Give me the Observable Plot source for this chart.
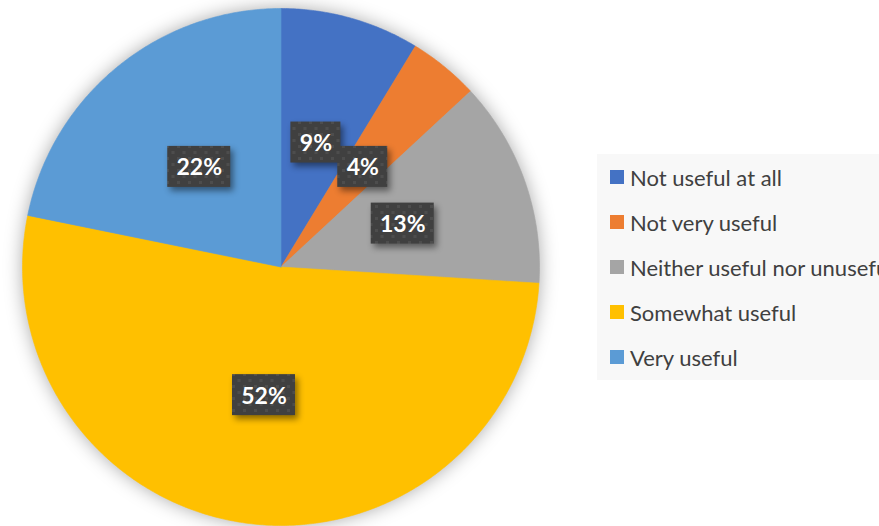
<!DOCTYPE html>
<html><head><meta charset="utf-8">
<script src="https://cdn.jsdelivr.net/npm/d3@7"></script>
<script src="https://cdn.jsdelivr.net/npm/@observablehq/plot@0.6"></script>
<style>
html,body{margin:0;padding:0;background:#fff;overflow:hidden}
#wrap{position:relative;width:879px;height:526px;font-family:Lato,sans-serif;overflow:hidden}
#legend{position:absolute;left:597px;top:154px;width:282px;height:226px;background:#F8F8F8;overflow:hidden;white-space:nowrap}
.item{position:absolute;left:13px;height:26px;display:flex;align-items:center;font-size:22px;color:#404040}
.sw{width:14px;height:14px;margin-right:6px;flex:none}
</style></head><body><div id="wrap"><div id="chart"></div><div id="legend"></div></div>
<script>
const categories = ["Not useful at all","Not very useful","Neither useful nor unuseful","Somewhat useful","Very useful"];
const values = [8.7, 4.4, 12.9, 52.2, 21.8];
const labels = ["9%","4%","13%","52%","22%"];
const colors = ["#4472C4","#ED7D31","#A5A5A5","#FFC000","#5B9BD5"];

const W = 879, H = 526, cx = 280.5, cy = 266.5, R = 258.5;
const total = d3.sum(values);
const slices = [], labelData = [];
let cum = 0;
values.forEach((v, i) => {
  const a0 = cum / total * 2 * Math.PI;
  cum += v;
  const a1 = cum / total * 2 * Math.PI;
  const n = Math.max(2, Math.ceil((a1 - a0) / (Math.PI / 360)));
  slices.push({cat: categories[i], x: 0, y: 0});
  for (let k = 0; k <= n; k++) {
    const a = a0 + (a1 - a0) * k / n;
    slices.push({cat: categories[i], x: Math.sin(a), y: Math.cos(a)});
  }
  slices.push({cat: categories[i], x: 0, y: 0});
  const am = (a0 + a1) / 2;
  const w = (labels[i].length === 2 ? 50 : 63) / 2 / R, h = 41 / 2 / R;
  const lx = 0.5 * Math.sin(am), ly = 0.5 * Math.cos(am);
  labelData.push({cat: categories[i], label: labels[i], x: lx, y: ly, x1: lx - w, x2: lx + w, y1: ly - h, y2: ly + h});
});

const plot = Plot.plot({
  width: W, height: H,
  margin: 0,
  x: {domain: [-cx / R, (W - cx) / R], axis: null},
  y: {domain: [-(H - cy) / R, cy / R], axis: null},
  color: {domain: categories, range: colors},
  marks: [
    Plot.line(slices, {x: "x", y: "y", z: "cat", fill: "cat", stroke: "cat", strokeWidth: 0.6, curve: "linear"}),
    Plot.rect(labelData, {x1: "x1", x2: "x2", y1: "y1", y2: "y2", fill: "url(#dots)"}),
    Plot.text(labelData, {x: "x", y: "y", text: "label", fill: "white", fontSize: 23, fontWeight: "bold", fontFamily: "Lato", dy: 1})
  ]
});

const ns = "http://www.w3.org/2000/svg";
const defs = document.createElementNS(ns, "defs");
defs.innerHTML = '<pattern id="dots" patternUnits="userSpaceOnUse" width="11" height="12">' +
  '<rect width="11" height="12" fill="#404040"/>' +
  '<rect x="1" y="1" width="3" height="3" fill="#4d4d4d"/>' +
  '<rect x="6.5" y="7" width="3" height="3" fill="#4d4d4d"/></pattern>';
plot.insertBefore(defs, plot.firstChild);
const gLine = plot.querySelector('g[aria-label="line"]');
if (gLine) gLine.style.filter = "drop-shadow(0px 0px 9px rgba(0,0,0,0.33))";
const gRect = plot.querySelector('g[aria-label="rect"]');
if (gRect) gRect.style.filter = "drop-shadow(3px 4px 3px rgba(0,0,0,0.45))";
document.getElementById("chart").appendChild(plot);

const legend = document.getElementById("legend");
const rowTops = [23, 68, 113, 158, 203];
categories.forEach((c, i) => {
  const it = document.createElement("div");
  it.className = "item";
  it.style.top = (rowTops[i] - 13) + "px";
  it.innerHTML = '<div class="sw" style="background:' + colors[i] + '"></div><span>' + c + '</span>';
  legend.appendChild(it);
});
</script></body></html>
